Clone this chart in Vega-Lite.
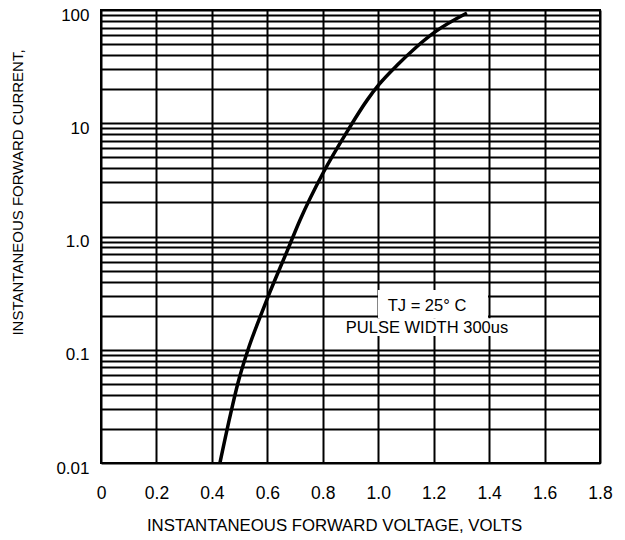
{
  "$schema": "https://vega.github.io/schema/vega-lite/v6.json",
  "width": 499,
  "height": 453,
  "autosize": "none",
  "padding": {"left": 101, "top": 10, "right": 25, "bottom": 77},
  "background": "white",
  "config": {
    "font": "Liberation Sans",
    "view": {"stroke": "black", "strokeWidth": 2}
  },
  "datasets": {
    "curve": [
      {"v": 0.429, "i": 0.01},
      {"v": 0.465, "i": 0.0255},
      {"v": 0.494, "i": 0.0508},
      {"v": 0.530, "i": 0.0995},
      {"v": 0.574, "i": 0.195},
      {"v": 0.602, "i": 0.292},
      {"v": 0.671, "i": 0.74},
      {"v": 0.718, "i": 1.40},
      {"v": 0.801, "i": 3.64},
      {"v": 0.891, "i": 8.7},
      {"v": 0.960, "i": 16.0},
      {"v": 1.003, "i": 22.0},
      {"v": 1.068, "i": 32.5},
      {"v": 1.133, "i": 46.0},
      {"v": 1.205, "i": 64.0},
      {"v": 1.320, "i": 94.0}
    ],
    "boxes": [
      {"x1": 0.999, "x2": 1.396, "y1": 0.19, "y2": 0.337},
      {"x1": 0.855, "x2": 1.475, "y1": 0.132, "y2": 0.19}
    ],
    "notes": [
      {"v": 1.176, "i": 0.243, "label": "TJ = 25°  C"},
      {"v": 1.176, "i": 0.156, "label": "PULSE WIDTH 300us"}
    ]
  },
  "layer": [
    {
      "data": {"name": "curve"},
      "mark": {"type": "line", "color": "black", "strokeWidth": 3.5, "interpolate": "monotone", "clip": true},
      "encoding": {
        "x": {
          "field": "v", "type": "quantitative",
          "scale": {"domain": [0, 1.8], "nice": false},
          "axis": {
            "values": [0, 0.2, 0.4, 0.6, 0.8, 1.0, 1.2, 1.4, 1.6, 1.8],
            "labelExpr": "datum.value == 0 ? '0' : format(datum.value, '.1f')",
            "grid": true, "gridColor": "black", "gridWidth": 2, "gridOpacity": 1,
            "ticks": false, "domain": false,
            "labelPadding": 21, "labelFontSize": 17.5, "labelColor": "black",
            "labelFlush": false,
            "title": "INSTANTANEOUS FORWARD VOLTAGE, VOLTS",
            "titleFontSize": 16.8, "titleFontWeight": "normal", "titleColor": "black",
            "titleX": 233, "titleY": 62, "titleAnchor": null, "titleAlign": "center", "titleBaseline": "middle"
          }
        },
        "y": {
          "field": "i", "type": "quantitative",
          "scale": {"type": "log", "domain": [0.01, 100], "nice": false},
          "axis": {
            "values": [0.01, 0.02, 0.03, 0.04, 0.05, 0.06, 0.07, 0.08, 0.09,
                       0.1, 0.2, 0.3, 0.4, 0.5, 0.6, 0.7, 0.8, 0.9,
                       1, 2, 3, 4, 5, 6, 7, 8, 9,
                       10, 20, 30, 40, 50, 60, 70, 80, 90, 100],
            "labelExpr": "datum.value == 0.01 ? '0.01' : datum.value == 0.1 ? '0.1' : datum.value == 1 ? '1.0' : datum.value == 10 ? '10' : datum.value == 100 ? '100' : ''",
            "grid": true, "gridColor": "black", "gridWidth": 2, "gridOpacity": 1,
            "ticks": false, "domain": false,
            "labelPadding": 12, "labelFontSize": 17, "labelColor": "black",
            "labelOffset": 5, "labelFlush": false, "labelOverlap": false,
            "title": "INSTANTANEOUS FORWARD CURRENT,",
            "titleFontSize": 15, "titleFontWeight": "normal", "titleColor": "black",
            "titleAngle": -90, "titleX": -84, "titleY": 182, "titleAnchor": null,
            "titleAlign": "center", "titleBaseline": "middle"
          }
        }
      }
    },
    {
      "data": {"name": "boxes"},
      "mark": {"type": "rect", "color": "white", "opacity": 1},
      "encoding": {
        "x": {"field": "x1", "type": "quantitative"},
        "x2": {"field": "x2"},
        "y": {"field": "y1", "type": "quantitative"},
        "y2": {"field": "y2"}
      }
    },
    {
      "data": {"name": "notes"},
      "mark": {"type": "text", "fontSize": 16.5, "color": "black", "align": "center", "baseline": "middle"},
      "encoding": {
        "x": {"field": "v", "type": "quantitative"},
        "y": {"field": "i", "type": "quantitative"},
        "text": {"field": "label"}
      }
    }
  ]
}
